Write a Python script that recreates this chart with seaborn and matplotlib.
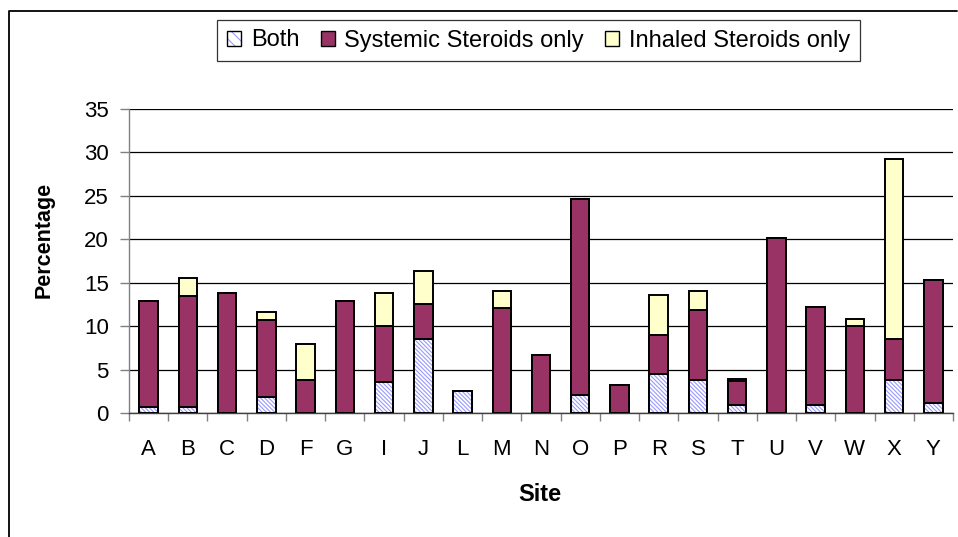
import matplotlib
matplotlib.use("Agg")
import matplotlib.pyplot as plt
import matplotlib.patches as mpatches
import matplotlib.colors as mcolors
from matplotlib.lines import Line2D
import seaborn as sns
import pandas as pd
import numpy as np

sites = ["A", "B", "C", "D", "F", "G", "I", "J", "L", "M", "N",
         "O", "P", "R", "S", "T", "U", "V", "W", "X", "Y"]
both = [0.7, 0.7, 0.0, 1.8, 0.0, 0.0, 3.6, 8.5, 2.5, 0.0, 0.0,
        2.1, 0.0, 4.5, 3.8, 0.9, 0.0, 0.9, 0.0, 3.8, 1.1]
systemic = [12.2, 12.8, 13.8, 8.9, 3.8, 12.9, 6.4, 4.1, 0.0, 12.1, 6.7,
            22.5, 3.2, 4.5, 8.1, 2.75, 20.2, 11.3, 10.0, 4.7, 14.2]
inhaled = [0.0, 2.1, 0.0, 0.9, 4.2, 0.0, 3.8, 3.7, 0.0, 1.9, 0.0,
           0.0, 0.0, 4.6, 2.1, 0.25, 0.0, 0.0, 0.8, 20.7, 0.0]
series_names = ["Both", "Systemic Steroids only", "Inhaled Steroids only"]
y_ticks = [0, 5, 10, 15, 20, 25, 30, 35]

C_BOTH_HATCH = "#9999FF"
C_SYS = "#993366"
C_INH = "#FFFFCC"
HATCH = "\\" * 8

sns.set_theme(style="white")
plt.rcParams["font.family"] = ["Liberation Sans", "DejaVu Sans"]
plt.rcParams["hatch.linewidth"] = 0.8

df = pd.DataFrame({"site": sites, "both": both, "systemic": systemic, "inhaled": inhaled})
df["lvl2"] = df["both"] + df["systemic"]
df["lvl3"] = df["lvl2"] + df["inhaled"]

W, H = 958, 537
fig = plt.figure(figsize=(W / 100, H / 100), dpi=100)
ax = fig.add_axes([129 / W, 1 - 413 / H, (953 - 129) / W, (413 - 109) / H])

bw = 0.47
lw = 1.4
sns.barplot(data=df, x="site", y="lvl3", color=C_INH, saturation=1, width=bw,
            edgecolor="black", linewidth=lw, errorbar=None, ax=ax, zorder=3)
sns.barplot(data=df, x="site", y="lvl2", color=C_SYS, saturation=1, width=bw,
            edgecolor="black", linewidth=lw, errorbar=None, ax=ax, zorder=3)
n1 = len(ax.patches)
sns.barplot(data=df, x="site", y="both", color="white", saturation=1, width=bw,
            edgecolor="black", linewidth=lw, errorbar=None, ax=ax, zorder=3,
            hatch=HATCH)
for p in ax.patches[n1:]:
    p._hatch_color = mcolors.to_rgba(C_BOTH_HATCH)

ax.set_ylim(0, 35)
ax.set_xlim(-0.5, len(sites) - 0.5)
ax.set_yticks(y_ticks)
ax.yaxis.grid(True, color="black", linewidth=0.9, zorder=0)
ax.set_axisbelow(True)
for s in ["top", "right"]:
    ax.spines[s].set_visible(False)
ax.spines["left"].set_color("#808080")
ax.spines["left"].set_linewidth(1.0)
ax.spines["bottom"].set_color("#404040")
ax.spines["bottom"].set_linewidth(1.0)

FS = 16
ax.tick_params(axis="y", which="major", direction="out", length=6.5, width=1,
               color="#808080", labelsize=FS, pad=8, left=True)
ax.set_xticks(np.arange(len(sites)))
ax.set_xticklabels(sites)
ax.set_xticks(np.arange(len(sites) + 1) - 0.5, minor=True)
ax.tick_params(axis="x", which="major", length=0, labelsize=FS, pad=19, bottom=True)
ax.tick_params(axis="x", which="minor", direction="out", length=6, width=1,
               color="#808080", bottom=True)
for t in ax.get_xticklabels() + ax.get_yticklabels():
    t.set_color("black")

ax.set_xlabel("Site", fontsize=17, fontweight="bold", color="black")
ax.xaxis.set_label_coords((540 - 129) / (953 - 129), (413 - 483) / (413 - 109))
ax.set_ylabel("Percentage", fontsize=15.5, fontweight="bold", color="black")
ax.yaxis.set_label_coords((55 - 129) / (953 - 129), (413 - 240) / (413 - 109))

# legend
h_both = mpatches.Patch(facecolor="white", edgecolor="black", hatch="\\\\\\", linewidth=1.0)
h_both._hatch_color = mcolors.to_rgba(C_BOTH_HATCH)
h_sys = mpatches.Patch(facecolor=C_SYS, edgecolor="black", linewidth=1.0)
h_inh = mpatches.Patch(facecolor=C_INH, edgecolor="black", linewidth=1.0)
leg = fig.legend([h_both, h_sys, h_inh], series_names, loc="center",
                 bbox_to_anchor=(538.5 / W, 1 - 40.5 / H), ncol=3, fontsize=17,
                 frameon=True, fancybox=False, shadow=False, handlelength=0.6,
                 handleheight=0.6, handletextpad=0.4, columnspacing=0.9,
                 borderpad=0.42, borderaxespad=0)
leg.get_frame().set_edgecolor("black")
leg.get_frame().set_linewidth(0.9)
for t in leg.get_texts():
    t.set_color("black")

# outer chart frame
fig.add_artist(Line2D([9 / W, 9 / W, 957 / W], [0, 1 - 11 / H, 1 - 11 / H],
                      transform=fig.transFigure, color="black", linewidth=1.3))

fig.savefig("out.png", dpi=100)
